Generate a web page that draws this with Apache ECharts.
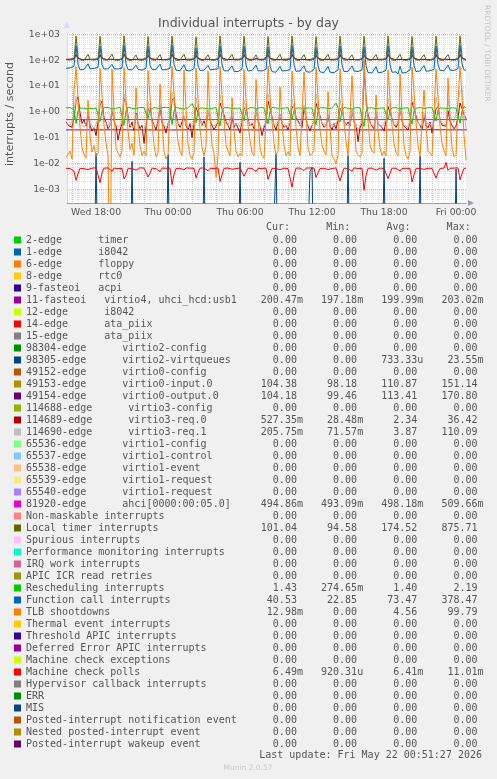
<!DOCTYPE html>
<html><head><meta charset="utf-8">
<script src="https://cdn.jsdelivr.net/npm/echarts@6/dist/echarts.min.js"></script>
<style>html,body{margin:0;padding:0;background:#F0F0F0}#c{width:497px;height:779px}</style>
</head><body><div id="c"></div><script>
// ---- time base (hours since Wed 00:00) ----
const START_HOUR = 15.5;          // first sample Wed 15:30
const STEP = 1 / 6;               // 10 minute samples
const X_MIN = 15.58, X_MAX = 48.83;
const Y_MIN = 2.95e-4, Y_MAX = 1122;
const FLOOR = 1e-7;               // zero values drop off the log axis

const X_LABEL_HOURS = [18, 24, 30, 36, 42, 48];
const X_LABEL_TEXT = ['Wed 18:00', 'Thu 00:00', 'Thu 06:00', 'Thu 12:00', 'Thu 18:00', 'Fri 00:00'];
const Y_LABEL_VALUES = [1e-3, 1e-2, 1e-1, 1, 10, 100, 1000];
const Y_LABEL_TEXT = ['1e-03', '1e-02', '1e-01', '1e+00', '1e+01', '1e+02', '1e+03'];

const NAMES = [
 '2-edge      timer','1-edge      i8042','6-edge      floppy','8-edge      rtc0','9-fasteoi   acpi',
 '11-fasteoi   virtio4, uhci_hcd:usb1','12-edge      i8042','14-edge      ata_piix','15-edge      ata_piix',
 '98304-edge      virtio2-config','98305-edge      virtio2-virtqueues','49152-edge      virtio0-config',
 '49153-edge      virtio0-input.0','49154-edge      virtio0-output.0','114688-edge      virtio3-config',
 '114689-edge      virtio3-req.0','114690-edge      virtio3-req.1','65536-edge      virtio1-config',
 '65537-edge      virtio1-control','65538-edge      virtio1-event','65539-edge      virtio1-request',
 '65540-edge      virtio1-request','81920-edge      ahci[0000:00:05.0]','Non-maskable interrupts',
 'Local timer interrupts','Spurious interrupts','Performance monitoring interrupts','IRQ work interrupts',
 'APIC ICR read retries','Rescheduling interrupts','Function call interrupts','TLB shootdowns',
 'Thermal event interrupts','Threshold APIC interrupts','Deferred Error APIC interrupts',
 'Machine check exceptions','Machine check polls','Hypervisor callback interrupts','ERR','MIS',
 'Posted-interrupt notification event','Nested posted-interrupt event','Posted-interrupt wakeup event'
];
const COLORS = [
 '#00CC00','#0066B3','#FF8000','#FFCC00','#330099','#990099','#CCFF00','#FF0000','#808080','#008F00',
 '#00487D','#B35A00','#B38F00','#6B006B','#8FB300','#B30000','#BEBEBE','#80FF80','#80C9FF','#FFC080',
 '#FFE680','#AA80FF','#EE00CC','#FF8080','#666600','#FFBFFF','#00FFCC','#CC6699','#999900','#00CC00',
 '#0066B3','#FF8000','#FFCC00','#330099','#990099','#CCFF00','#FF0000','#808080','#008F00','#00487D',
 '#B35A00','#B38F00','#6B006B'
];
const Z='0.00';
const CUR = [Z,Z,Z,Z,Z,'200.47m',Z,Z,Z,Z,Z,Z,'104.38','104.18',Z,'527.35m','205.75m',Z,Z,Z,Z,Z,'494.86m',Z,'101.04',Z,Z,Z,Z,'1.43','40.53','12.98m',Z,Z,Z,Z,'6.49m',Z,Z,Z,Z,Z,Z];
const MIN = [Z,Z,Z,Z,Z,'197.18m',Z,Z,Z,Z,Z,Z,'98.18','99.46',Z,'28.48m','71.57m',Z,Z,Z,Z,Z,'493.09m',Z,'94.58',Z,Z,Z,Z,'274.65m','22.85',Z,Z,Z,Z,Z,'920.31u',Z,Z,Z,Z,Z,Z];
const AVG = [Z,Z,Z,Z,Z,'199.99m',Z,Z,Z,Z,'733.33u',Z,'110.87','113.41',Z,'2.34','3.87',Z,Z,Z,Z,Z,'498.18m',Z,'174.52',Z,Z,Z,Z,'1.40','73.47','4.56',Z,Z,Z,Z,'6.41m',Z,Z,Z,Z,Z,Z];
const MAX = [Z,Z,Z,Z,Z,'203.02m',Z,Z,Z,Z,'23.55m',Z,'151.14','170.80',Z,'36.42','110.09',Z,Z,Z,Z,Z,'509.66m',Z,'875.71',Z,Z,Z,Z,'2.19','378.47','99.79',Z,Z,Z,Z,'11.01m',Z,Z,Z,Z,Z,Z];

// ---- series values (10 min samples unless noted) ----
const LOC = [104,98,101,99,112,
860,138,103,100,98,102,168,106,99,101,97,110,
845,131,101,99,103,100,172,104,100,98,102,109,
870,142,100,102,99,101,158,103,101,99,100,111,
820,128,102,98,100,99,165,105,100,102,98,107,
855,136,99,101,100,103,170,102,98,100,101,110,
800,125,101,100,99,102,162,104,101,99,100,108,
865,140,100,99,102,100,168,103,100,101,99,112,
850,133,102,100,98,101,160,105,99,100,102,109,
830,129,101,99,100,102,171,103,100,98,101,110,
860,137,100,102,99,100,164,104,101,99,100,108,
815,127,99,101,100,101,169,102,100,101,98,111,
858,135,101,100,102,99,161,105,99,100,101,109,
840,130,102,99,100,101,166,103,100,102,99,110,
862,139,100,101,99,100,170,104,101,98,100,108,
825,126,101,100,102,101,163,102,99,100,101,111,
852,134,99,101,100,102,167,105,100,99,102,110,
875.7,140,102,101];
const CAL = [48,44,50,46,58,
365,70,42,47,44,49,72,46,43,48,45,52,
350,66,45,41,46,44,68,47,42,45,43,50,
372,72,43,46,42,47,64,44,46,41,44,49,
340,62,44,40,43,46,70,42,45,43,40,48,
378,68,41,44,39,42,66,40,43,38,42,47,
300,60,40,43,41,38,62,42,39,44,40,46,
360,65,39,42,38,41,60,37,40,36,39,45,
345,63,38,35,40,37,64,39,36,38,35,44,
320,58,36,39,34,37,58,38,35,39,36,43,
370,66,37,34,38,35,61,36,39,34,37,44,
310,60,35,38,33,36,57,34,37,33,36,42,
355,64,36,34,37,35,60,38,34,36,33,43,
330,59,33,36,32,35,56,33,30,34,31,41,
362,65,34,31,35,29,58,32,28,33,30,42,
325,61,36,33,38,35,62,37,34,39,36,44,
350,66,40,43,39,42,64,41,44,40,43,47,
368,70,42,40];
const TLB = [0.018,0.022,0.03,0.015,6.5,
55,3.2,0.25,0.04,0.022,0.016,2.8,0.12,0.028,0.05,0.019,0.024,
48,4.1,0.3,0.06,0.02,0,45,0.9,0.04,0.025,0.018,0.03,
52,2.6,0.18,0.035,0.06,0.021,8.5,0.3,0.05,0.02,0.03,0.02,
40,3.5,0.4,0.05,0.018,0.024,12,0.4,0.03,0.015,0.022,1.5,
58,5,0.35,0.07,0.03,0.02,42,1.2,0.06,0.02,0.015,0.026,
50,3,0.22,0.04,0.02,0.05,38,0.7,0.05,0.025,0.003,0.02,
56,4.5,0.5,0.05,0.03,0.02,3.5,0.2,0.03,0.018,0.024,0.02,
44,2.8,0.3,0.08,0.025,0.02,18,0.6,0.04,0.02,0.016,0.6,
60,4,0.4,0.06,0.02,0.03,9,0.35,0.05,0.02,0.028,0.02,
38,3.2,0.25,0.04,0.02,0.018,35,0.8,0.04,0.02,0.02,0.03,
54,3.6,0.2,0.05,0.03,0.022,6,0.25,0.02,0.015,0.01,0.02,
47,2.9,0.35,0.07,0.02,0.02,25,0.5,0.03,0.022,0.018,0.025,
99.79,4.4,0.45,0.05,0.03,0.025,4.5,0.18,0.04,0.02,0.03,0.02,
42,3,0.3,0.06,0.025,0.02,30,0.7,0.05,0.02,0.015,0.028,
53,5.5,0.4,0.05,0.02,0.018,7,0.3,0.03,0.025,0.02,0.02,
46,3.4,0.28,0.06,0.03,0.02,20,0.45,0.04,0.018,0.022,2.5,
57,3.8,0.12,0.013];
const RES = [1.42,1.38,1.45,1.4,1.2,
0.35,1.1,1.4,1.45,1.38,1.5,1.3,1.42,1.36,1.47,1.4,1.35,
0.42,1.05,1.44,1.39,1.48,1.41,1.28,1.46,1.37,1.43,1.5,1.38,
0.3,1.15,1.52,1.4,1.36,1.45,1.32,1.41,1.48,1.37,1.44,1.4,
0.55,1.2,1.38,1.46,1.42,1.35,1.3,1.44,1.4,1.5,1.36,1.42,
0.32,1.08,1.45,1.41,1.37,1.48,1.25,1.4,1.43,1.38,2.1,1.45,
0.38,1.12,1.4,1.44,1.39,1.42,1.3,1.47,1.36,1.41,1.45,1.39,
0.28,1.1,1.43,1.38,1.46,1.4,1.33,1.42,1.37,1.44,1.4,1.47,
0.45,1.18,1.41,1.45,1.36,1.43,1.28,1.4,1.46,1.39,1.42,1.38,
0.34,1.06,1.47,1.4,1.42,1.37,1.31,1.45,1.4,1.36,1.43,1.41,
0.5,1.14,1.39,1.44,1.41,1.46,1.29,1.38,1.42,1.47,1.4,1.36,
0.31,1.09,1.42,1.37,1.45,1.4,1.34,1.43,1.38,1.41,2.19,1.44,
0.4,1.16,1.45,1.41,1.38,1.44,1.3,1.4,1.46,1.37,1.42,1.39,
0.27,1.07,1.4,1.46,1.42,1.38,1.32,1.44,1.39,1.43,1.41,1.45,
0.48,1.13,1.43,1.39,1.44,1.41,1.28,1.46,1.4,1.38,1.42,1.4,
0.33,1.1,1.38,1.42,1.46,1.39,1.33,1.41,1.44,1.37,1.45,1.42,
0.44,1.17,1.41,1.45,1.38,1.42,1.3,1.39,1.43,1.46,1.4,1.38,
0.36,1.12,1.6,1.43];
const REQ0 = [0.4,0.3,0.35,0.25,0.6,
2.5,3.8,0.9,0.35,0.5,0.28,0.8,0.3,0.18,0.25,0.12,0.4,
1.8,2.6,0.6,0.4,0.22,0.3,1.2,0.45,0.3,0.08,0.2,0.35,
3.2,2.2,0.7,0.25,0.4,0.18,0.9,0.35,0.22,0.3,0.06,0.3,
1.2,1.5,0.5,0.3,0.2,0.45,1.5,0.4,0.28,0.15,0.35,0.5,
2.8,3.5,0.8,0.35,0.25,0.4,0.7,0.3,0.2,0.35,0.1,0.45,
1.5,1.7,0.55,0.3,0.45,0.25,1.1,0.5,0.3,0.2,0.28,0.4,
2.2,2.4,0.75,0.4,0.3,0.2,0.6,0.25,0.35,0.4,0.15,0.5,
1.3,1.6,0.5,0.28,0.35,0.22,1.3,0.45,0.3,0.12,0.25,0.38,
2.6,2.6,0.65,0.3,0.2,0.4,0.8,0.35,0.25,0.3,0.2,0.42,
1.4,1.9,0.6,0.45,0.3,0.25,1.6,0.5,0.28,0.18,0.3,0.4,
2.1,2.3,0.7,0.35,0.25,0.3,0.75,0.28,0.2,0.35,0.22,0.48,
1.2,1.5,0.45,0.3,0.4,0.28,1.2,0.4,0.32,0.07,0.25,0.36,
36.42,2.7,0.8,0.4,0.28,0.22,0.9,0.35,0.3,0.25,0.18,0.44,
1.6,1.8,0.55,0.32,0.25,0.35,1.4,0.45,0.28,0.3,0.2,0.4,
2.4,2.2,0.7,0.38,0.3,0.2,0.7,0.3,0.24,0.4,0.15,0.5,
1.3,1.6,0.5,0.3,0.35,0.28,1.1,0.42,0.3,0.22,0.28,0.6,
2.2,2.1,0.8,0.53];
const REQ1 = [0.35,0.4,0.3,0.45,0.8,
4,1.5,0.5,0.3,0.25,0.35,0.9,0.4,0.3,0.22,0.35,0.5,
3,1.2,0.45,0.35,0.3,0.28,1.5,0.45,0.32,0.25,0.3,0.45,
5,1.8,0.6,0.3,0.35,0.25,0.8,0.35,0.28,0.3,0.2,0.4,
2.5,1.1,0.4,0.28,0.3,0.35,2,0.5,0.3,0.25,0.32,0.6,
6,2,0.55,0.35,0.3,0.28,0.7,0.32,0.26,0.3,0.22,0.45,
3.5,1.3,0.5,0.3,0.35,0.3,1.2,0.45,0.35,0.28,0.3,0.4,
4.5,1.6,0.5,0.35,0.28,0.25,0.9,0.3,0.32,0.35,0.25,0.5,
2.8,1.2,0.45,0.3,0.3,0.28,1.4,0.4,0.3,0.2,0.3,0.42,
5,1.7,0.55,0.32,0.28,0.35,0.8,0.35,0.3,0.3,0.25,0.45,
3.2,1.4,0.5,0.38,0.3,0.28,1.8,0.5,0.3,0.25,0.3,0.4,
4.8,1.5,0.6,0.35,0.3,0.3,0.85,0.32,0.28,0.3,0.26,0.48,
3,1.2,0.45,0.3,0.35,0.3,1.3,0.42,0.3,0.2,0.3,0.4,
110.09,1.9,0.6,0.35,0.3,0.28,1,0.35,0.3,0.28,0.25,0.5,
3.4,1.3,0.5,0.32,0.3,0.35,1.6,0.45,0.3,0.3,0.25,0.45,
4.2,1.6,0.55,0.36,0.32,0.28,0.9,0.35,0.3,0.35,0.28,0.6,
3.6,1.5,0.5,0.35,0.3,0.3,3,0.8,0.5,0.4,0.9,2.5,
6,8,1.2,0.21];
const MCP = [0.0065,0.0066,0.0064,0.0067,0.005,
0.0022,0.004,0.0065,0.0066,0.0063,0.0067,0.0058,0.0065,0.0066,0.0064,0.0068,0.0065,
0.0018,0.0045,0.0066,0.0064,0.0067,0.0065,0.005,0.0066,0.0065,0.0063,0.0066,0.0064,
0.0025,0.0035,0.0065,0.0067,0.0064,0.0066,0.0055,0.0065,0.0068,0.0064,0.0066,0.0065,
0.003,0.0042,0.0066,0.0065,0.0063,0.0067,0.0048,0.0066,0.0064,0.0065,0.0067,0.0066,
0.0015,0.0038,0.0064,0.0066,0.0065,0.0064,0.0056,0.0067,0.0065,0.0066,0.0064,0.0065,
0.0028,0.0044,0.0066,0.0065,0.0067,0.0063,0.0052,0.0065,0.0066,0.0064,0.0065,0.0067,
0.002,0.0036,0.0065,0.0064,0.0066,0.0065,0.006,0.0066,0.0063,0.0065,0.0067,0.0064,
0.0032,0.0046,0.0066,0.0067,0.0064,0.0066,0.0049,0.0065,0.0066,0.0064,0.0065,0.0066,
0.0024,0.004,0.0065,0.0066,0.0064,0.0067,0.0057,0.0064,0.0066,0.0065,0.0063,0.0065,
0.0012,0.0035,0.0066,0.0065,0.0066,0.0064,0.0053,0.0066,0.0065,0.0067,0.0064,0.0066,
0.0029,0.0043,0.0064,0.0066,0.0065,0.0066,0.0058,0.0065,0.0064,0.0066,0.0067,0.0065,
0.0021,0.0039,0.0066,0.0065,0.0063,0.0065,0.005,0.0067,0.0065,0.0064,0.0066,0.0065,
0.00092,0.0034,0.0065,0.0067,0.0066,0.0064,0.0055,0.0065,0.0066,0.0065,0.0064,0.0066,
0.0026,0.0041,0.0066,0.0064,0.0065,0.0067,0.0051,0.0064,0.0066,0.0065,0.0066,0.0064,
0.0019,0.0037,0.0065,0.0066,0.0064,0.0065,0.0059,0.0066,0.0065,0.0063,0.0065,0.0066,
0.0027,0.0045,0.0064,0.0065,0.0066,0.011,0.0054,0.0065,0.0064,0.0066,0.0065,0.0067,
0.0023,0.004,0.0065,0.0065];
const VQ = [0,0,0,0,0,
0,0,0,0,0,0,0,0,0,0,0.024,0,
0,0,0,0,0,0,0,0,0,0,0,0,
0,0,0,0,0.012,0,0,0,0,0,0,0,
0,0,0,0,0,0,0,0,0,0,0.022,0,
0,0,0,0,0,0,0,0,0,0,0,0,
0,0,0,0,0.018,0,0,0,0,0,0,0,
0,0,0,0,0,0,0,0,0,0,0.011,0,
0,0,0,0,0,0,0,0,0,0,0,0,
0,0,0,0,0.024,0,0,0,0,0,0,0,
0,0,0,0,0,0,0,0,0,0.005,0.007,0,
0,0,0,0,0,0,0,0,0,0,0,0,
0,0,0,0,0.02,0,0,0,0,0,0,0,
0,0,0,0,0,0,0,0,0,0,0.016,0,
0,0,0,0,0,0,0,0,0,0,0,0,
0,0,0,0,0.019,0,0,0,0,0,0,0,
0,0,0,0,0,0,0,0,0,0,0.006,0,
0,0,0,0];
const IN0 = [106,104,108,105,112,
148,118,107,104,106,105,113,106,104,107,105,110,
145,116,106,105,104,107,112,105,106,104,108,109,
151.1,120,108,104,106,105,114,107,104,106,105,111,
140,115,105,107,104,106,112,104,106,105,107,110,
149,119,107,105,106,104,113,106,105,107,104,109,
138,114,106,104,105,107,111,105,107,104,106,110,
150,118,104,106,107,105,114,107,104,106,105,111,
146,117,107,105,104,106,112,105,106,104,107,109,
142,115,105,106,107,104,113,106,105,107,104,110,
148,119,106,104,105,106,112,104,107,105,106,111,
139,114,107,105,104,107,111,106,104,106,105,109,
147,118,105,107,106,104,113,105,106,104,107,110,
141,116,106,104,105,106,112,107,105,106,104,111,
149,119,104,106,107,105,114,106,104,105,106,110,
143,115,107,105,104,106,111,105,107,104,105,109,
146,117,105,106,105,107,113,104,106,105,107,110,
150,118,106,104.4];
const OUT0 = [107,105,109,106,114,
165,122,108,105,107,106,115,107,105,108,106,112,
160,120,107,106,105,108,114,106,107,105,109,111,
170.8,124,109,105,107,106,116,108,105,107,106,113,
155,119,106,108,105,107,114,105,107,106,108,112,
168,123,108,106,107,105,115,107,106,108,105,111,
152,118,107,105,106,108,113,106,108,105,107,112,
166,122,105,107,108,106,116,108,105,107,106,113,
161,121,108,106,105,107,114,106,107,105,108,111,
157,119,106,107,108,105,115,107,106,108,105,112,
164,123,107,105,106,107,114,105,108,106,107,113,
153,118,108,106,105,108,113,107,105,107,106,111,
162,122,106,108,107,105,115,106,107,105,108,112,
156,120,107,105,106,107,114,108,106,107,105,113,
167,123,105,107,108,106,116,107,105,106,107,112,
158,119,108,106,105,107,113,106,108,105,106,111,
163,121,106,107,106,108,115,105,107,106,108,112,
166,122,107,104.2];
// 2-hour samples for the flat lines
const FASTEOI11 = [0.2,0.199,0.201,0.2,0.198,0.2,0.202,0.2,0.199,0.2,0.201,0.2,0.2,0.199,0.2,0.203,0.2,0.2005];
const AHCI = [0.498,0.497,0.499,0.498,0.496,0.5,0.498,0.497,0.499,0.498,0.51,0.497,0.498,0.499,0.497,0.498,0.499,0.495];

const SERIES_VALUES = {5:[FASTEOI11,2],10:[VQ,STEP],12:[IN0,STEP],13:[OUT0,STEP],15:[REQ0,STEP],16:[REQ1,STEP],
  22:[AHCI,2],24:[LOC,STEP],29:[RES,STEP],30:[CAL,STEP],31:[TLB,STEP],36:[MCP,STEP]};

function toPoints(vals, step){ return vals.map((v,i)=>[START_HOUR + i*step, v > 0 ? v : FLOOR]); }
function col(s){ const u = /[a-z]$/.test(s) ? s.slice(-1) : ' '; const n = u===' ' ? s : s.slice(0,-1); return n.padStart(6,' ') + u; }
function row(i){ return NAMES[i].padEnd(39,' ') + col(CUR[i]) + '   ' + col(MIN[i]) + '   ' + col(AVG[i]) + '   ' + col(MAX[i]); }

const MAJOR_X = [], MINOR_X = [], MINOR_Y = [];
for (let h = 16; h <= 48; h += 2) MAJOR_X.push(h);
for (let h = 16; h <= 48.8; h += 0.5) MINOR_X.push(h);
for (let e = -4; e <= 2; e++) for (let m = 2; m <= 9; m++) { const v = m*Math.pow(10,e); if (v > Y_MIN && v < Y_MAX) MINOR_Y.push(v); }

const series = NAMES.map((name,i)=>{
  const sv = SERIES_VALUES[i];
  return { name, type:'line', xAxisIndex:0, yAxisIndex:0, showSymbol:false, symbol:'none', animation:false,
    color: COLORS[i], lineStyle:{ width:1, color: COLORS[i] }, clip:true,
    data: sv ? toPoints(sv[0], sv[1]) : [] };
});

const TXT = '#555555';
const chart = echarts.init(document.getElementById('c'), null, {renderer:'canvas'});
chart.setOption({
  backgroundColor:'#F0F0F0',
  animation:false,
  title:{ text:'Individual interrupts - by day', left:'center', top:12,
    textStyle:{ fontFamily:'DejaVu Sans', fontSize:12.5, fontWeight:'normal', color:TXT } },
  grid:{ left:67, top:33, width:399, height:170, show:true, backgroundColor:'#FFFFFF', borderWidth:0 },
  xAxis:[
    { type:'value', min:X_MIN, max:X_MAX, z:1,
      axisLine:{ show:true, symbol:['none','triangle'], symbolSize:[6,6], symbolOffset:[0,5], lineStyle:{ color:'#A294CC', width:1 } },
      axisTick:{ show:false, customValues:MAJOR_X },
      axisLabel:{ customValues:X_LABEL_HOURS, margin:5, fontFamily:'DejaVu Sans', fontSize:9.3, color:TXT,
        formatter:v=>X_LABEL_TEXT[X_LABEL_HOURS.indexOf(Math.round(v))] },
      splitLine:{ show:true, lineStyle:{ color:'#E6B3B3', width:1, type:[1,1] } } },
    { type:'value', min:X_MIN, max:X_MAX, z:0, position:'bottom',
      axisLine:{ show:false }, axisLabel:{ show:false }, axisTick:{ show:false, customValues:MINOR_X },
      splitLine:{ show:true, lineStyle:{ color:'#E2E2E2', width:1, type:[1,1] } } }
  ],
  yAxis:[
    { type:'log', logBase:10, min:Y_MIN, max:Y_MAX, z:1,
      axisLine:{ show:true, symbol:['none','triangle'], symbolSize:[6,6], symbolOffset:[0,8], lineStyle:{ color:'#CFD6F8', width:1 } },
      axisTick:{ show:false, customValues:Y_LABEL_VALUES },
      axisLabel:{ customValues:Y_LABEL_VALUES, margin:7, fontFamily:'DejaVu Sans', fontSize:9.3, color:TXT,
        formatter:v=>{ const k = Y_LABEL_VALUES.findIndex(x=>Math.abs(Math.log10(x)-Math.log10(v))<0.01); return k<0?'':Y_LABEL_TEXT[k]; } },
      splitLine:{ show:true, lineStyle:{ color:'#E6B3B3', width:1, type:[1,1] } } },
    { type:'log', logBase:10, min:Y_MIN, max:Y_MAX, z:0,
      axisLine:{ show:false }, axisLabel:{ show:false }, axisTick:{ show:false, customValues:MINOR_Y },
      splitLine:{ show:true, lineStyle:{ color:'#E2E2E2', width:1, type:[1,1] } } }
  ],
  legend:{ orient:'vertical', left:14, top:234, padding:0, itemGap:0, itemWidth:7, itemHeight:7, icon:'rect',
    selectedMode:false, data:NAMES, formatter:name=>row(NAMES.indexOf(name)),
    textStyle:{ fontFamily:'DejaVu Sans Mono', fontSize:10, lineHeight:12, color:TXT } },
  graphic:[
    { type:'text', x:10, y:114, rotation:Math.PI/2, style:{ text:'interrupts / second', font:'11px "DejaVu Sans"', fill:TXT, align:'center', verticalAlign:'middle' } },
    { type:'text', x:487, y:5, rotation:-Math.PI/2, style:{ text:'RRDTOOL / TOBI OETIKER', font:'7.5px "DejaVu Sans"', fill:'#C4C4C4', align:'left', verticalAlign:'middle' } },
    { type:'text', x:266, y:227, style:{ text:'Cur:      Min:      Avg:      Max:', font:'10px "DejaVu Sans Mono"', fill:TXT, align:'left', verticalAlign:'middle' } },
    { type:'text', x:482, y:755, style:{ text:'Last update: Fri May 22 00:51:27 2026', font:'10px "DejaVu Sans Mono"', fill:TXT, align:'right', verticalAlign:'middle' } },
    { type:'text', x:248, y:768, style:{ text:'Munin 2.0.57', font:'7.5px "DejaVu Sans"', fill:'#C8C8C8', align:'center', verticalAlign:'middle' } }
  ],
  series
});
</script></body></html>
